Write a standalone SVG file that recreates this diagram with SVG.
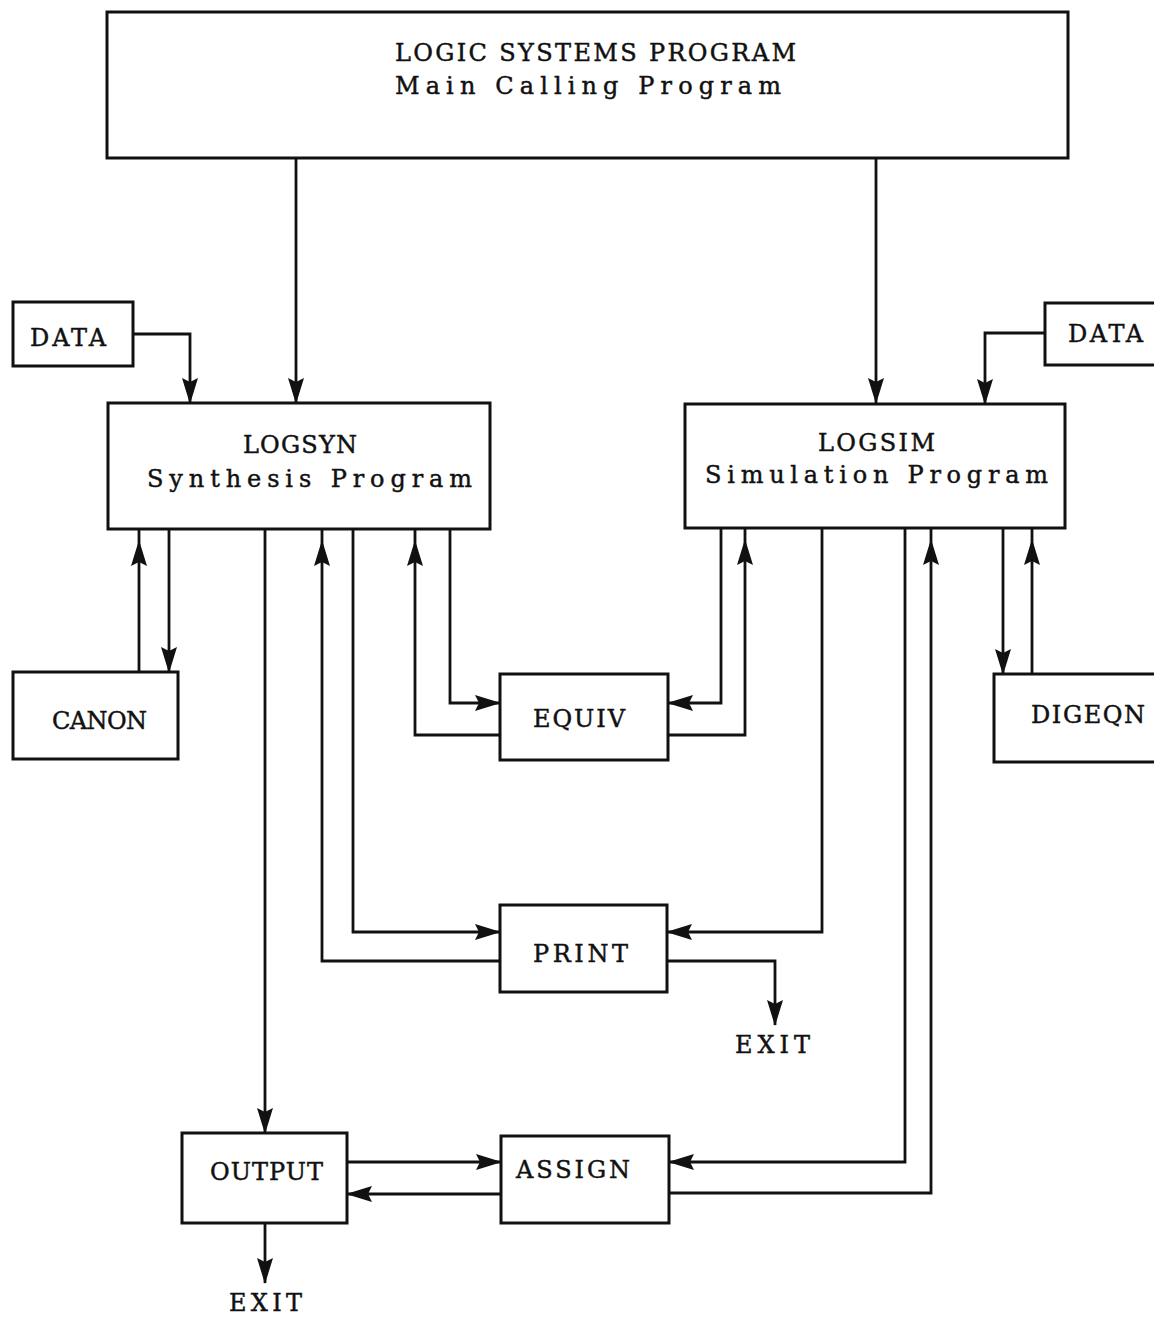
<svg xmlns="http://www.w3.org/2000/svg" width="1154" height="1318" viewBox="0 0 1154 1318">
<style>
.box{fill:#fff;stroke:#111;stroke-width:3}
.c{fill:none;stroke:#111;stroke-width:2.8}
.a{marker-end:url(#ah)}
.u{marker-end:url(#ahu)}
text{font-family:"DejaVu Serif","Liberation Serif",serif;font-size:24px;fill:#111;stroke:#111;stroke-width:0.45}
</style>
<defs>
<marker id="ah" viewBox="0 -9 26 18" refX="25" refY="0" markerWidth="26" markerHeight="18" markerUnits="userSpaceOnUse" orient="auto">
<path d="M0,-8 L26,0 L0,8 L4,0 z" fill="#111"/>
</marker>
<marker id="ahu" viewBox="0 -9 38 18" refX="37" refY="0" markerWidth="38" markerHeight="18" markerUnits="userSpaceOnUse" orient="auto">
<path d="M0,-8 L26,0 L0,8 L4,0 z" fill="#111"/>
</marker>
</defs>
<rect width="1154" height="1318" fill="#fff"/>
<g id="connectors">
<path class="c a" d="M296,158 V403"/>
<path class="c a" d="M876,158 V403"/>
<path class="c a" d="M133,334 H190 V403"/>
<path class="c a" d="M1045,333 H985 V404"/>
<path class="c u" d="M139,672 V529"/>
<path class="c a" d="M169,529 V672"/>
<path class="c a" d="M265,529 V1133"/>
<path class="c u" d="M500,961 H322 V529"/>
<path class="c a" d="M353,529 V932 H500"/>
<path class="c u" d="M500,735 H415 V529"/>
<path class="c a" d="M450,529 V703 H500"/>
<path class="c a" d="M721,528 V703 H668"/>
<path class="c u" d="M668,735 H745 V528"/>
<path class="c a" d="M822,528 V932 H667"/>
<path class="c a" d="M667,961 H775 V1025"/>
<path class="c a" d="M905,528 V1162 H669"/>
<path class="c u" d="M669,1193 H931 V528"/>
<path class="c a" d="M1003,528 V674"/>
<path class="c u" d="M1032,674 V528"/>
<path class="c a" d="M347,1162 H501"/>
<path class="c a" d="M501,1194 H347"/>
<path class="c a" d="M265,1223 V1283"/>
</g>
<g id="main"><rect class="box" x="107" y="12" width="961" height="146"/>
<text x="395" y="61" textLength="401" lengthAdjust="spacing">LOGIC SYSTEMS PROGRAM</text>
<text x="395" y="94" textLength="386" lengthAdjust="spacing">Main Calling Program</text></g>
<g id="data-left"><rect class="box" x="13" y="302" width="120" height="64"/><text x="30" y="346" textLength="76" lengthAdjust="spacing">DATA</text></g>
<g id="data-right"><rect class="box" x="1045" y="303" width="120" height="62"/><text x="1068" y="342" textLength="75" lengthAdjust="spacing">DATA</text></g>
<g id="logsyn"><rect class="box" x="108" y="403" width="382" height="126"/>
<text x="243" y="453" textLength="114" lengthAdjust="spacing">LOGSYN</text><text x="147" y="487" textLength="325" lengthAdjust="spacing">Synthesis Program</text></g>
<g id="logsim"><rect class="box" x="685" y="404" width="380" height="124"/>
<text x="818" y="451" textLength="117" lengthAdjust="spacing">LOGSIM</text><text x="705" y="483" textLength="343" lengthAdjust="spacing">Simulation Program</text></g>
<g id="canon"><rect class="box" x="13" y="672" width="165" height="87"/><text x="52" y="729" textLength="95" lengthAdjust="spacing">CANON</text></g>
<g id="equiv"><rect class="box" x="500" y="674" width="168" height="86"/><text x="533" y="727" textLength="92" lengthAdjust="spacing">EQUIV</text></g>
<g id="digeqn"><rect class="box" x="994" y="674" width="170" height="88"/><text x="1031" y="723" textLength="114" lengthAdjust="spacing">DIGEQN</text></g>
<g id="print"><rect class="box" x="500" y="905" width="167" height="87"/><text x="533" y="962" textLength="95" lengthAdjust="spacing">PRINT</text></g>
<g id="exit-print"><text x="735" y="1053" textLength="75" lengthAdjust="spacing">EXIT</text></g>
<g id="output"><rect class="box" x="182" y="1133" width="165" height="90"/><text x="210" y="1180" textLength="113" lengthAdjust="spacing">OUTPUT</text></g>
<g id="assign"><rect class="box" x="501" y="1136" width="168" height="87"/><text x="516" y="1178" textLength="114" lengthAdjust="spacing">ASSIGN</text></g>
<g id="exit-output"><text x="229" y="1311" textLength="73" lengthAdjust="spacing">EXIT</text></g>
</svg>
